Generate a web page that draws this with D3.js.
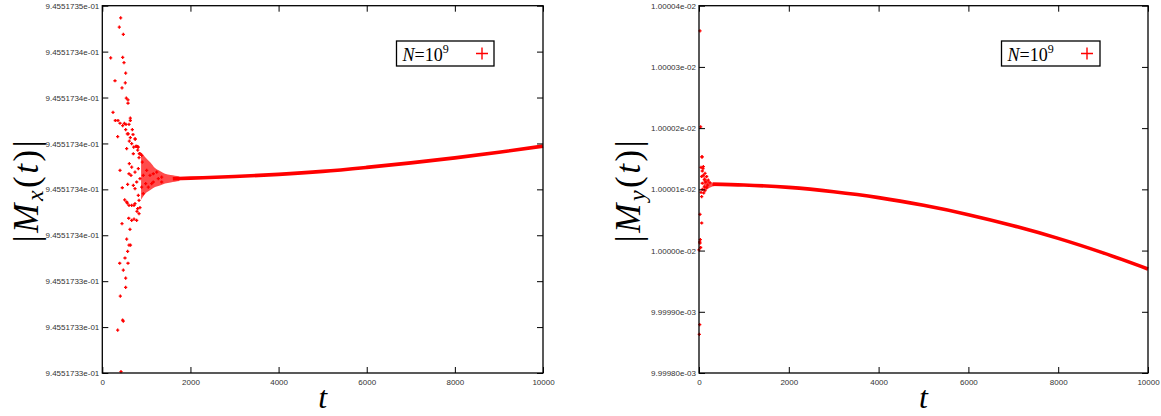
<!DOCTYPE html>
<html><head><meta charset="utf-8">
<script src="https://cdn.jsdelivr.net/npm/d3@7"></script>
<style>
html,body{margin:0;padding:0;background:#fff;}
svg{display:block;}
.tick text{font-family:"Liberation Sans",Arial,sans-serif;font-size:8px;fill:#333;}
.tick line{stroke:#000;stroke-width:1;}
</style></head>
<body>
<svg id="c" width="1161" height="416"></svg>
<script>
// ---------- DATA ----------
const tTicks = [0, 2000, 4000, 6000, 8000, 10000];
const tTickLabels = ["0", "2000", "4000", "6000", "8000", "10000"];

// Left panel |M_x(t)|: offsets in units of 1e-10 above 0.9455173
const mxBase = 0.9455173, mxUnit = 1e-10;
const mxTickOffsets = [300, 320, 340, 360, 380, 400, 420, 440, 460];
const mxTickLabels = ["9.4551733e-01","9.4551733e-01","9.4551733e-01","9.4551734e-01","9.4551734e-01",
  "9.4551734e-01","9.4551734e-01","9.4551734e-01","9.4551735e-01"];
// transient scattered points [t, offset]
const mxScatter = [[190,437.3],[243,413.5],[288,427.3],[295,410],[349,403],[349,318.7],[356,410],[386,450.7],
  [395,347.8],[402,408.8],[402,388.3],[409,333.5],[417,454.7],[424,300.6],[447,424.2],[447,365.1],[454,380.7],
  [460,323],[463,437.5],[463,407.8],[477,322.6],[477,447.5],[477,344.8],[492,435.2],[500,408.7],[508,375.4],
  [515,350.1],[522,426.4],[530,430.6],[530,337.3],[530,341.3],[531,406],[538,408.3],[545,419.7],[553,397.7],
  [553,358.3],[553,374.5],[568,404.2],[568,374],[575,353],[575,382.2],[583,419],[583,417.5],[583,347.8],
  [590,404.2],[599,367.4],[606,408.3],[606,386.8],[606,373],[606,355.7],[613,401],[613,391.2],[628,362.6],
  [636,411],[636,410],[636,402.5],[640,355.7],[651,386.1],[667,399.9],[667,389.7],[667,373],[667,366.5],
  [681,406],[697,403.9],[704,395.5],[704,381.7],[712,398.4],[719,373],[720,367],[742,402],[742,387.5],
  [742,380.3],[742,373.8],[749,401.9],[760,398.7],[780,398.7],[780,383.2],[780,366.5],[787,370.4],[800,398.6],
  [803,397.1],[803,371.6],[817,398.4],[817,389],[817,377.4],[833,393.8],[833,375.2],[833,369.4],[840,395.6],
  [850,395.6],[855,395.5],[855,384.7],[855,372],[893,394.8],[893,381],[908,391.9],[930,386.1],[930,378.1],
  [984,382.5],[1007,388.3],[1044,381],[1082,386.1],[1120,382.5],[1157,386.8],[1157,383.2],[1234,387.5],
  [1271,384.7],[1347,385.3],[1347,383.2]];
// converging envelope [t, upper, lower]
const mxEnvelope = [[880,396,375.5],[975,394,378.1],[1082,391.9,379.6],[1196,389.3,381],[1309,388,381.7],
  [1423,386.8,382.5],[1550,386.2,383],[1650,385.9,383.3],[1750,385.6,383.6]];
// converged band centre [t, offset]
const mxBand = [[1600,384.6],[2000,384.87],[3000,385.57],[4000,386.52],[5000,387.83],[6000,389.57],
  [7000,391.52],[8000,393.7],[9000,396.17],[10000,398.83]];

// Right panel |M_y(t)|: offsets in units of 1e-8 above 0.0099998
const myBase = 0.0099998, myUnit = 1e-8;
const myTickOffsets = [0, 10, 20, 30, 40, 50, 60];
const myTickLabels = ["9.99980e-03","9.99990e-03","1.00000e-02","1.00001e-02","1.00002e-02","1.00003e-02","1.00004e-02"];
const myScatter = [[22,55.9],[37,40.2],[60,35.3],[73,35.3],[96,33.7],[45,33.6],[89,33.4],[73,33.0],[134,32.6],
  [96,32.3],[171,32.1],[60,32.1],[118,31.6],[207,31.5],[149,31.2],[245,31.1],[73,31.0],[193,30.7],[118,30.4],
  [171,30.3],[73,30.0],[134,29.8],[45,29.5],[104,29.4],[60,28.8],[22,25.9],[60,24.5],[29,21.8],[16,21.4],
  [22,21.2],[37,20.5],[0,20.1],[16,7.9],[7,6.3]];
const myEnvelope = [[100,32.4,29.5],[150,31.9,29.8],[200,31.5,30.1],[250,31.2,30.3],[300,31.0,30.45],[400,30.95,30.6]];
const myBand = [[300,30.86],[1000,30.72],[2000,30.32],[3000,29.61],[4000,28.65],[5000,27.39],[6000,25.87],
  [7000,24.06],[8000,21.99],[9000,19.62],[10000,16.99]];

const legendLabel = "N=10";
const legendSup = "9";

// ---------- DRAW ----------
const svg = d3.select("#c");
const RED = "#ff0000";

function panel(opt) {
  const x = d3.scaleLinear().domain([0, 10000]).range([opt.x0, opt.x1]);
  const yv = o => opt.base + o * opt.unit;
  const y = d3.scaleLinear().domain([yv(opt.tickOffsets[0]), yv(opt.tickOffsets[opt.tickOffsets.length-1])]).range([opt.y1, opt.y0]);
  const g = svg.append("g");

  const area = d3.area().x(d => x(d[0])).y0(d => y(yv(d[2]))).y1(d => y(yv(d[1]))).curve(d3.curveMonotoneX);
  g.append("path").datum(opt.envelope).attr("d", area).attr("fill", RED).attr("fill-opacity", 0.7);
  const line = d3.line().x(d => x(d[0])).y(d => y(yv(d[1]))).curve(d3.curveMonotoneX);
  g.append("path").datum(opt.band).attr("d", line).attr("fill", "none").attr("stroke", RED).attr("stroke-width", 3.6);
  g.selectAll("path.pt").data(opt.scatter).join("path").attr("class", "pt")
    .attr("transform", d => `translate(${x(d[0])},${y(yv(d[1]))})`)
    .attr("d", "M-1.6,0H1.6M0,-1.6V1.6").attr("stroke", RED).attr("stroke-width", 1.3).attr("fill", "none");

  const tickVals = opt.tickOffsets.map(yv);
  const ax = [
    [d3.axisBottom(x).tickValues(tTicks).tickFormat((d, i) => tTickLabels[i]).tickSize(-6).tickSizeOuter(0).tickPadding(6), `translate(0,${opt.y1})`],
    [d3.axisTop(x).tickValues(tTicks).tickFormat("").tickSize(-6).tickSizeOuter(0), `translate(0,${opt.y0})`],
    [d3.axisLeft(y).tickValues(tickVals).tickFormat((d, i) => opt.tickLabels[i]).tickSize(-6).tickSizeOuter(0).tickPadding(3), `translate(${opt.x0},0)`],
    [d3.axisRight(y).tickValues(tickVals).tickFormat("").tickSize(-6).tickSizeOuter(0), `translate(${opt.x1},0)`]
  ];
  ax.forEach(([a, tr]) => {
    const ag = svg.append("g").attr("transform", tr).call(a);
    ag.select(".domain").remove();
  });
  svg.append("rect").attr("x", opt.x0).attr("y", opt.y0).attr("width", opt.x1 - opt.x0).attr("height", opt.y1 - opt.y0)
    .attr("fill", "none").attr("stroke", "#000").attr("stroke-width", 1.3);

  svg.append("text").attr("x", (opt.x0 + opt.x1) / 2).attr("y", 408).attr("text-anchor", "middle")
    .attr("font-family", "Liberation Serif, serif").attr("font-style", "italic").attr("font-size", 32).text("t");

  const yt = svg.append("text").attr("transform", `translate(${opt.ytx},190) rotate(-90)`).attr("text-anchor", "middle")
    .attr("font-family", "Liberation Serif, serif").attr("font-size", 35).attr("letter-spacing", 2.5);
  yt.append("tspan").text("|");
  yt.append("tspan").attr("font-style", "italic").text("M");
  yt.append("tspan").attr("font-style", "italic").attr("font-size", 24).attr("dy", 5).text(opt.sub);
  yt.append("tspan").attr("dy", -5).text("(");
  yt.append("tspan").attr("font-style", "italic").text("t");
  yt.append("tspan").text(")|");

  svg.append("rect").attr("x", opt.lx).attr("y", 41).attr("width", opt.lw).attr("height", 25)
    .attr("fill", "#fff").attr("stroke", "#000").attr("stroke-width", 1.3);
  const lt = svg.append("text").attr("x", opt.lx + 6).attr("y", 61).attr("font-family", "Liberation Serif, serif").attr("font-size", 18);
  lt.append("tspan").attr("font-style", "italic").text(legendLabel[0]);
  lt.append("tspan").text(legendLabel.slice(1));
  lt.append("tspan").attr("font-size", 12).attr("dy", -8).text(legendSup);
  svg.append("path").attr("transform", `translate(${opt.lpx},53.5)`).attr("d", "M-6,0H6M0,-6V6")
    .attr("stroke", RED).attr("stroke-width", 1.4);
}

panel({x0: 102.3, x1: 543, y0: 5.7, y1: 373, base: mxBase, unit: mxUnit, tickOffsets: mxTickOffsets,
  tickLabels: mxTickLabels, scatter: mxScatter, envelope: mxEnvelope, band: mxBand, sub: "x", ytx: 38,
  lx: 396.5, lw: 97.5, lpx: 482});
panel({x0: 699, x1: 1148, y0: 5.7, y1: 373, base: myBase, unit: myUnit, tickOffsets: myTickOffsets,
  tickLabels: myTickLabels, scatter: myScatter, envelope: myEnvelope, band: myBand, sub: "y", ytx: 640,
  lx: 1001.5, lw: 98.5, lpx: 1087});
</script>
</body></html>
